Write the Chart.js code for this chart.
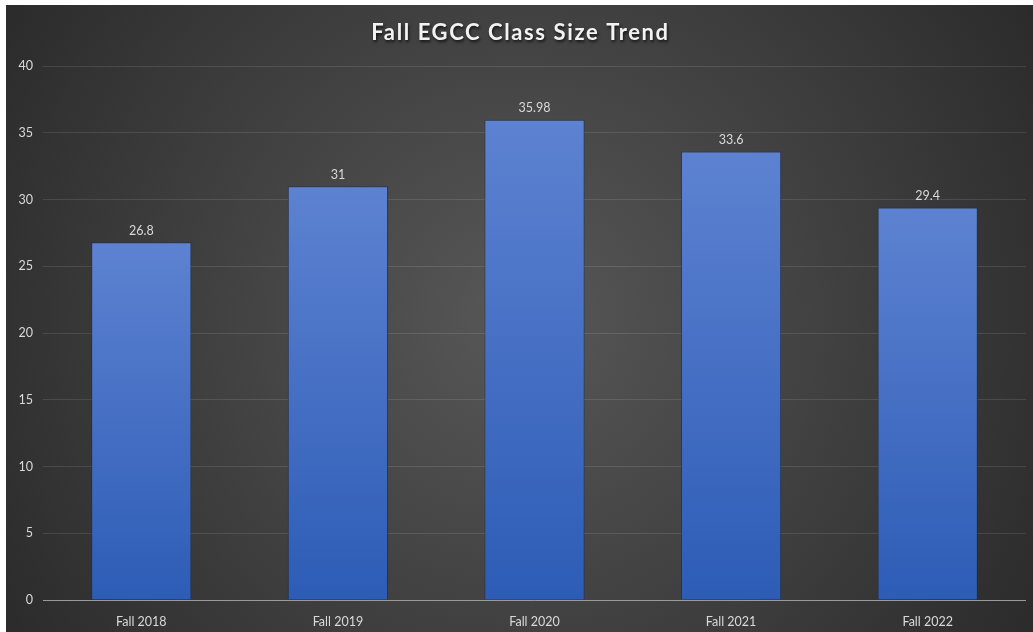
<!DOCTYPE html>
<html>
<head>
<meta charset="utf-8">
<script src="https://cdn.jsdelivr.net/npm/chart.js@4"></script>
<style>
  body { margin: 0; background: #ffffff; }
  #wrap { position: absolute; left: 6px; top: 5px; width: 1027px; height: 627px; }
</style>
</head>
<body>
<div id="wrap"><canvas id="classChart"></canvas></div>
<script>
const TITLE = "Fall EGCC Class Size Trend";
const terms = ["Fall 2018", "Fall 2019", "Fall 2020", "Fall 2021", "Fall 2022"];
const classSize = [26.8, 31, 35.98, 33.6, 29.4];
const valueLabels = ["26.8", "31", "35.98", "33.6", "29.4"];
const yTicks = [0, 5, 10, 15, 20, 25, 30, 35, 40];

const FONT = "Lato, 'Open Sans', sans-serif";

// dark radial background plus the title, like the Excel chart
const backdrop = {
  id: "backdrop",
  beforeDraw(chart) {
    const { ctx, width, height } = chart;
    const g = ctx.createRadialGradient(width / 2, height / 2, 20, width / 2, height / 2, width * 0.6);
    g.addColorStop(0, "#565656");
    g.addColorStop(1, "#2a2a2a");
    ctx.save();
    ctx.fillStyle = g;
    ctx.fillRect(0, 0, width, height);
    ctx.restore();
  },
  afterDraw(chart) {
    const { ctx, width } = chart;
    ctx.save();
    ctx.font = "bold 22px " + FONT;
    ctx.letterSpacing = "1.6px";
    ctx.textAlign = "center";
    ctx.textBaseline = "middle";
    ctx.shadowColor = "rgba(0,0,0,0.7)";
    ctx.shadowBlur = 3;
    ctx.shadowOffsetX = 1;
    ctx.shadowOffsetY = 2;
    ctx.fillStyle = "#f2f2f2";
    ctx.fillText(TITLE, width / 2 + 1, 28);
    ctx.restore();
  },
};

// value labels over each bar
const barValues = {
  id: "barValues",
  afterDatasetsDraw(chart) {
    const { ctx } = chart;
    const meta = chart.getDatasetMeta(0);
    ctx.save();
    ctx.font = "12.5px " + FONT;
    ctx.fillStyle = "#d9d9d9";
    ctx.textAlign = "center";
    ctx.textBaseline = "bottom";
    meta.data.forEach((bar, i) => {
      ctx.fillText(valueLabels[i], bar.x, bar.y - 5);
    });
    ctx.restore();
  },
};

function barFill(context) {
  const chart = context.chart;
  if (!chart.chartArea) return "#4a72c8";
  const y = chart.scales.y;
  const top = y.getPixelForValue(context.raw);
  const bottom = y.getPixelForValue(0);
  const g = chart.ctx.createLinearGradient(0, top, 0, bottom);
  g.addColorStop(0, "#5d82d1");
  g.addColorStop(1, "#2d5cb6");
  return g;
}

new Chart(document.getElementById("classChart"), {
  type: "bar",
  data: {
    labels: terms,
    datasets: [
      {
        data: classSize,
        backgroundColor: barFill,
        borderColor: "rgba(30,45,80,0.7)",
        borderWidth: 1,
        barPercentage: 0.51,
        categoryPercentage: 1,
      },
    ],
  },
  options: {
    responsive: true,
    maintainAspectRatio: false,
    animation: false,
    layout: { padding: { top: 61, right: 7, left: 0, bottom: 0 } },
    plugins: {
      legend: { display: false },
      tooltip: { enabled: false },
    },
    scales: {
      x: {
        grid: { display: false },
        border: { display: false },
        ticks: { color: "#d9d9d9", font: { family: FONT, size: 12.5 }, padding: 6 },
        afterFit(scale) {
          scale.height = 32;
        },
      },
      y: {
        min: 0,
        max: 40,
        afterBuildTicks(scale) {
          scale.ticks = yTicks.map((v) => ({ value: v }));
        },
        grid: {
          color: (c) => (c.tick && c.tick.value === 0 ? "#9a9a9a" : "rgba(255,255,255,0.11)"),
          lineWidth: 1,
          drawTicks: false,
        },
        border: { display: false },
        ticks: { color: "#d9d9d9", font: { family: FONT, size: 12.5 }, padding: 10 },
        afterFit(scale) {
          scale.width = 37;
        },
      },
    },
  },
  plugins: [backdrop, barValues],
});
</script>
</body>
</html>
